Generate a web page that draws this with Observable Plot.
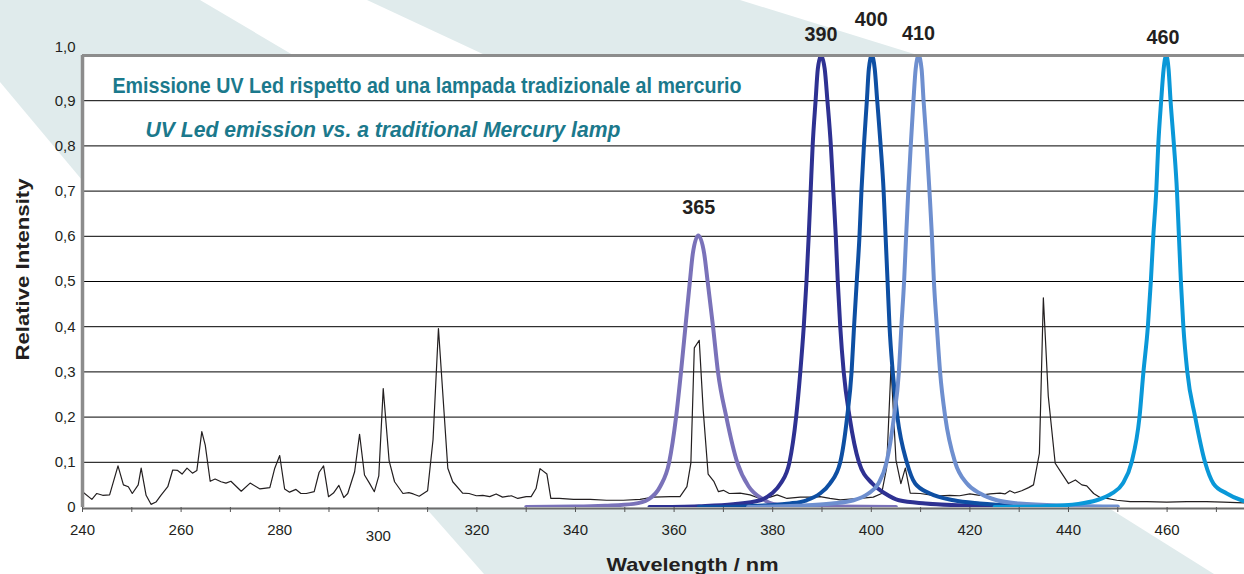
<!DOCTYPE html>
<html><head><meta charset="utf-8">
<script src="https://cdn.jsdelivr.net/npm/d3@7"></script>
<script src="https://cdn.jsdelivr.net/npm/@observablehq/plot@0.6"></script>
<style>
html,body{margin:0;padding:0;background:#fff;}
#chart{position:relative;width:1244px;height:574px;overflow:hidden;}
</style></head><body><div id="chart"></div>
<script>
// ---- Mercury lamp spectrum ----
const hgWavelength = [240.0,241.9,242.9,244.1,245.5,247.2,248.3,249.3,250.1,251.3,
251.9,252.9,253.9,254.9,255.9,257.3,258.3,259.3,260.2,261.2,
262.3,263.2,264.2,264.9,265.9,266.9,268.1,269.1,270.1,272.2,
274.0,276.0,278.0,279.0,280.0,281.0,282.0,283.3,284.3,285.4,
287.0,288.0,288.9,289.9,290.9,292.0,293.0,293.8,295.2,296.2,
297.2,298.2,299.2,300.1,301.0,302.2,303.3,305.0,306.2,307.1,
308.3,310.0,311.1,312.2,314.1,315.1,317.1,318.4,319.9,321.2,
322.6,323.9,325.2,327.0,328.3,330.0,331.0,332.0,332.8,334.2,
335.0,336.7,339.6,343.0,346.3,349.7,353.1,355.8,359.2,361.2,
362.6,363.4,364.1,365.1,365.9,366.9,368.1,369.0,370.0,371.2,
373.4,375.4,377.4,379.5,380.9,382.9,385.6,387.6,389.6,391.6,
393.7,397.7,400.4,402.1,403.1,404.0,405.0,406.0,406.9,407.9,
409.9,411.9,413.9,415.9,417.9,420.0,422.0,424.1,426.1,427.1,
428.1,429.1,430.5,431.9,432.9,434.1,434.9,435.9,437.3,438.6,
440.0,441.4,442.7,443.7,445.1,446.4,447.8,449.8,452.5,455.9,
459.9,464.0,468.0,471.4,475.8];
const hgIntensity = [0.035,0.018,0.031,0.027,0.028,0.092,0.050,0.046,0.031,0.050,
0.087,0.027,0.007,0.012,0.027,0.046,0.083,0.082,0.074,0.087,
0.076,0.082,0.168,0.138,0.058,0.063,0.057,0.054,0.058,0.036,
0.054,0.041,0.044,0.087,0.115,0.041,0.034,0.040,0.031,0.031,
0.035,0.078,0.092,0.024,0.032,0.049,0.022,0.031,0.079,0.162,
0.072,0.054,0.035,0.070,0.263,0.103,0.057,0.031,0.033,0.030,
0.025,0.037,0.150,0.396,0.087,0.057,0.032,0.031,0.026,0.027,
0.024,0.030,0.023,0.026,0.020,0.024,0.024,0.042,0.086,0.074,
0.020,0.020,0.018,0.018,0.016,0.016,0.018,0.023,0.024,0.024,
0.046,0.098,0.353,0.370,0.216,0.074,0.057,0.035,0.038,0.031,
0.032,0.028,0.020,0.023,0.028,0.020,0.023,0.023,0.024,0.020,
0.017,0.020,0.023,0.031,0.087,0.312,0.105,0.053,0.087,0.032,
0.031,0.028,0.026,0.027,0.026,0.030,0.027,0.030,0.032,0.030,
0.037,0.032,0.037,0.044,0.050,0.120,0.464,0.246,0.098,0.076,
0.053,0.061,0.050,0.048,0.031,0.022,0.020,0.016,0.013,0.013,
0.012,0.013,0.013,0.012,0.010];

// ---- UV LED spectra ----
const led365Wavelength = [330,340,346,351.8,354.8,357.2,359.0,360.4,361.4,362.3,363.2,363.8,364.9,366.1,366.8,367.9,368.9,370.6,372.8,375.1,378.1,380.1,385,392,405];
const led365Intensity  = [0.001,0.002,0.004,0.008,0.018,0.047,0.1,0.2,0.3,0.4,0.5,0.562,0.602,0.562,0.5,0.4,0.3,0.2,0.1,0.047,0.018,0.008,0.004,0.002,0.001];

const led390Wavelength = [355,365,372,377.45,379.8,381.6,383.4,384.75,385.6,386.3,386.85,387.3,387.7,388.1,388.7,389.15,389.8,390.55,391.1,391.8,392.3,392.8,393.2,393.7,394.4,395.6,397.5,400.2,402.8,405.6,411,420,430];
const led390Intensity  = [0.001,0.003,0.007,0.016,0.031,0.053,0.1,0.2,0.3,0.4,0.5,0.6,0.7,0.8,0.9,0.97,1.0,0.97,0.9,0.8,0.7,0.6,0.5,0.4,0.3,0.2,0.1,0.053,0.031,0.016,0.009,0.004,0.002];

const led400Wavelength = [365,375,383.5,386.9,389.6,391.6,393.7,395.1,396.0,396.5,397.05,397.6,398.0,398.5,399.1,399.5,400.1,400.7,401.2,401.9,402.5,402.9,403.3,403.7,404.35,405.3,407.2,408.9,411.9,416.7,422,430,440];
const led400Intensity  = [0.001,0.003,0.009,0.016,0.031,0.053,0.1,0.2,0.3,0.4,0.5,0.6,0.7,0.8,0.9,0.97,1.0,0.97,0.9,0.8,0.7,0.6,0.5,0.4,0.3,0.2,0.1,0.053,0.031,0.016,0.009,0.004,0.002];

const led410Wavelength = [375,385,392,396.4,399.4,401.45,403.1,404.6,405.6,406.1,406.65,407.06,407.5,408.0,408.55,409.0,409.6,410.2,410.6,411.25,411.8,412.3,412.7,413.3,413.95,415.0,417.0,419.4,422.1,425.5,430,440,450];
const led410Intensity  = [0.001,0.004,0.009,0.016,0.031,0.053,0.1,0.2,0.3,0.4,0.5,0.6,0.7,0.8,0.9,0.97,1.0,0.97,0.9,0.8,0.7,0.6,0.5,0.4,0.3,0.2,0.1,0.053,0.031,0.016,0.009,0.004,0.002];

const led460Wavelength = [425,435,442,445.7,448.8,451.0,452.8,454.4,455.2,456.1,456.7,457.2,457.8,458.2,458.8,459.3,459.8,460.3,460.7,461.4,462.0,462.4,462.8,463.3,464.1,465.7,467.7,469.4,472.1,475.1,478];
const led460Intensity  = [0.001,0.003,0.008,0.016,0.031,0.053,0.1,0.2,0.3,0.4,0.5,0.6,0.7,0.8,0.9,0.97,1.0,0.97,0.9,0.8,0.7,0.6,0.5,0.4,0.3,0.2,0.1,0.053,0.031,0.016,0.010];

const peakWavelengths = [365, 390, 400, 410, 460];
const peakValues = [0.602, 1, 1, 1, 1];
const peakLabels = ["365", "390", "400", "410", "460"];

const yTickValues = [0, 0.1, 0.2, 0.3, 0.4, 0.5, 0.6, 0.7, 0.8, 0.9, 1.0];
const xMinorTicks = [240,250,260,270,280,290,300,310,320,330,340,350,360,370,380,390,400,410,420,430,440,450,460,470];
const xTickLabels = [240,260,280,300,320,340,360,380,400,420,440,460];

const titleIt = "Emissione UV Led rispetto ad una lampada tradizionale al mercurio";
const titleEn = "UV Led emission vs. a traditional Mercury lamp";
const xTitle = "Wavelength / nm";
const yTitle = "Relative Intensity";

// ---- styles ----
const ledColors = ["#7a72b9", "#2e3192", "#0e4fa3", "#6e8fcf", "#0a98d8"];
const teal = "#1b798c";
const ink = "#231f20";
const axisGray = "#8c8c8c";
const labelLift = [21, 15, 30, 16, 12];
const labelShift = [0, -1, 0, -2, -4];

const pairs = (xs, ys) => xs.map((x, i) => ({x, y: ys[i]}));
const ledSeries = [
  pairs(led365Wavelength, led365Intensity),
  pairs(led390Wavelength, led390Intensity),
  pairs(led400Wavelength, led400Intensity),
  pairs(led410Wavelength, led410Intensity),
  pairs(led460Wavelength, led460Intensity)
];
const hgData = pairs(hgWavelength, hgIntensity);
const fmtY = d => d === 0 ? "0" : d.toFixed(1).replace(".", ",");

const svg = Plot.plot({
  width: 1244,
  height: 574,
  marginLeft: 82,
  marginRight: 0,
  marginTop: 55,
  marginBottom: 67,
  style: "font-family: 'Liberation Sans', Arial, sans-serif; background: transparent; overflow: visible;",
  x: {domain: [240, 475.7], label: null},
  y: {domain: [0, 1], label: null},
  marks: [
    Plot.frame({fill: "white", stroke: "none"}),
    Plot.ruleY(yTickValues.filter(v => v > 0 && v < 1), {stroke: "#000", strokeWidth: 1}),
    Plot.line(hgData, {x: "x", y: "y", stroke: ink, strokeWidth: 1.2, clip: true}),
    ...ledSeries.map((s, i) => Plot.line(s, {x: "x", y: "y", stroke: ledColors[i], strokeWidth: 4, curve: "monotone-x", clip: true})),
    Plot.ruleY([1], {stroke: axisGray, strokeWidth: 3}),
    Plot.ruleX([240], {stroke: axisGray, strokeWidth: 3.5}),
    Plot.ruleY([0], {stroke: "#6b6b6b", strokeWidth: 2, dy: 1}),
    Plot.axisX(xMinorTicks, {tickSize: 5, tickFormat: () => "", stroke: "#555"}),
    Plot.axisX(xTickLabels.filter(v => v !== 300), {tickSize: 0, tickPadding: 17, fontSize: 15, fill: ink}),
    Plot.axisX([300], {tickSize: 0, tickPadding: 23, fontSize: 15, fill: ink}),
    Plot.axisY(yTickValues.filter(v => v < 1), {tickSize: 0, tickPadding: 7, fontSize: 15, fill: ink, tickFormat: fmtY}),
    Plot.axisY([1], {tickSize: 0, tickPadding: 7, fontSize: 15, fill: ink, tickFormat: fmtY, dy: -8}),
    ...peakWavelengths.map((p, i) => Plot.text([peakLabels[i]], {
      x: () => p, y: () => peakValues[i], text: d => d,
      dy: -labelLift[i], dx: labelShift[i], lineAnchor: "bottom",
      fontSize: 20, fontWeight: "bold", fill: ink
    })),
    Plot.text([titleIt], {frameAnchor: "top-left", dx: 30, dy: 37, lineAnchor: "bottom", textAnchor: "start",
      fill: teal, fontWeight: "bold", fontSize: 21.5}),
    Plot.text([titleEn], {frameAnchor: "top-left", dx: 63, dy: 81, lineAnchor: "bottom", textAnchor: "start",
      fill: teal, fontWeight: "bold", fontStyle: "italic", fontSize: 21.5}),
    Plot.text([xTitle], {frameAnchor: "bottom", dx: 29, dy: 63, lineAnchor: "bottom",
      fill: ink, fontWeight: "bold", fontSize: 19}),
    Plot.text([yTitle], {frameAnchor: "left", dx: -60, dy: -12, rotate: -90, textAnchor: "middle",
      fill: ink, fontWeight: "bold", fontSize: 19})
  ]
});

// decorative background bands
const bands = [
  [[0,0],[200,0],[420,130],[82,180],[0,82]],
  [[367,0],[740,0],[940,62],[500,62]],
  [[410,490],[1080,490],[1214,574],[484,574]]
];
const sel = d3.select(svg);
sel.insert("g", ":first-child").selectAll("polygon").data(bands).join("polygon")
  .attr("points", d => d.map(p => p.join(",")).join(" "))
  .attr("fill", "#e0ebec");

// fit the width of the title and peak-label texts (only in text marks, not axes)
const fit = {[titleIt]: 629, [titleEn]: 475, [xTitle]: 172, [yTitle]: 182, "365": 33, "390": 33, "400": 33, "410": 33, "460": 33};
sel.selectAll("g[aria-label='text'] text").each(function() {
  const t = this.textContent;
  if (fit[t]) d3.select(this).attr("textLength", fit[t]).attr("lengthAdjust", "spacingAndGlyphs");
});

document.getElementById("chart").appendChild(svg);
</script>
</body></html>
